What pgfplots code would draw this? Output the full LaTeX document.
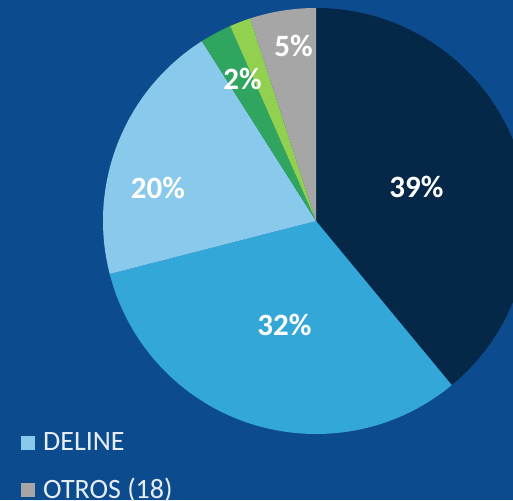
\documentclass[border=0pt]{standalone}
\usepackage{pgfplots}
\pgfplotsset{compat=1.18}
\usepackage{pgfplotstable}
\usepackage{fontspec}
\setmainfont{Carlito}
\definecolor{bgc}{RGB}{12,76,142}
\definecolor{c1}{RGB}{5,40,72}
\definecolor{c2}{RGB}{51,167,216}
\definecolor{c3}{RGB}{137,202,236}
\definecolor{c4}{RGB}{48,165,96}
\definecolor{c5}{RGB}{146,208,80}
\definecolor{c6}{RGB}{166,166,166}
\definecolor{legtext}{RGB}{232,237,244}

\pgfplotstableread{
name value col
A 39 c1
B 32 c2
DELINE 20 c3
D 2.4 c4
E 1.6 c5
OTROS 5 c6
}\piedata

\begin{document}
\begin{tikzpicture}
\useasboundingbox (0,0) rectangle (513pt,500pt);
\clip (0,0) rectangle (513pt,500pt);
\fill[bgc] (0,0) rectangle (513pt,500pt);
\begin{axis}[
  scale only axis, width=513pt, height=500pt,
  xmin=0, xmax=513, ymin=0, ymax=500,
  hide axis,
  legend style={at={(axis cs:21,68)}, anchor=north west, draw=none, fill=none,
    text=legtext, font=\fontsize{28}{32}\selectfont, row sep=26.5pt, column sep=8pt,
    inner sep=0pt, nodes={inner sep=0pt}},
  legend cell align=left,
  legend image code/.code={\fill[#1] (0pt,-8pt) rectangle (14pt,6pt);},
]
\pgfmathsetmacro\startang{90}
\pgfplotsforeachungrouped \i in {0,...,5}{
  \pgfplotstablegetelem{\i}{value}\of\piedata \let\v\pgfplotsretval
  \pgfplotstablegetelem{\i}{col}\of\piedata \let\c\pgfplotsretval
  \pgfmathsetmacro\endang{\startang-3.6*\v}
  \edef\temp{\noexpand\fill[\c] (axis cs:316,279) -- ++(\startang:213pt) arc[start angle=\startang, end angle=\endang, radius=213pt] -- cycle;}
  \temp
  \global\let\startang\endang
}
\addlegendimage{fill=c3, draw=none}
\addlegendentry{DELINE}
\addlegendimage{fill=c6, draw=none}
\addlegendentry{OTROS (18)}
\begin{scope}[every node/.style={font=\fontsize{31}{36}\selectfont\bfseries, text=white, inner sep=0pt}]
\node at (axis cs:416.5,313) {39\%};
\node at (axis cs:284.5,175) {32\%};
\node at (axis cs:158,312) {20\%};
\node at (axis cs:242.5,421) {2\%};
\node at (axis cs:293.5,454) {5\%};
\end{scope}
\end{axis}
\end{tikzpicture}
\end{document}
